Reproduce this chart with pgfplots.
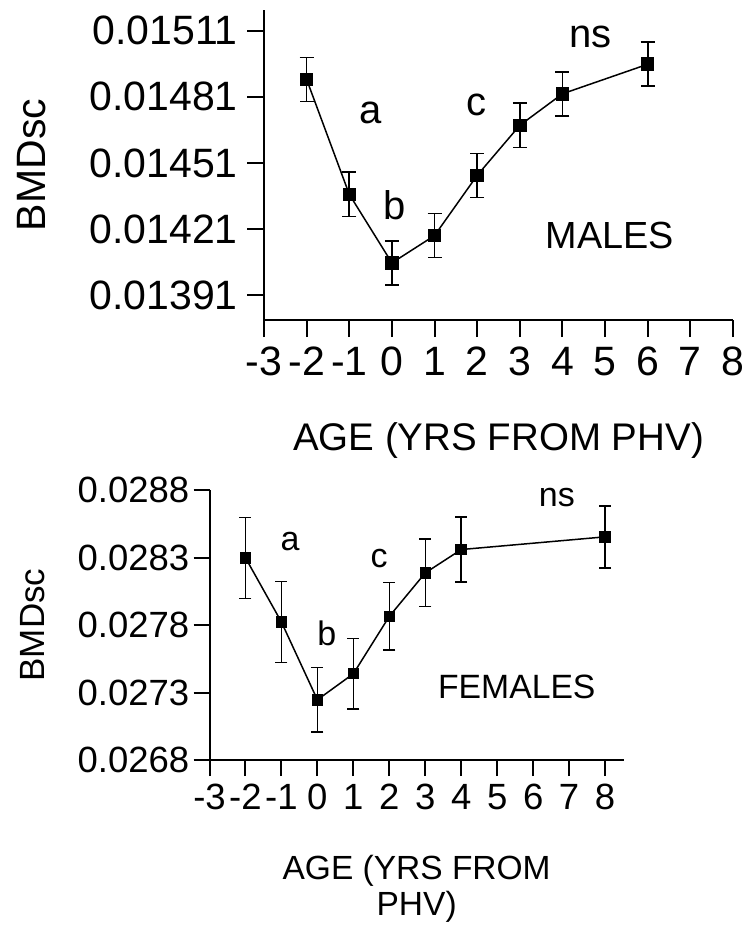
\documentclass[border=0pt]{standalone}
\usepackage{fontspec}
\setmainfont{Liberation Sans}
\usepackage{pgfplots}
\usepackage{pgfplotstable}
\pgfplotsset{compat=1.18}

\pgfplotstableread{
x y e
-2 0.014889 0.0001
-1 0.014368 0.0001
0 0.014057 0.0001
1 0.014181 0.0001
2 0.014454 0.0001
3 0.014681 0.0001
4 0.014824 0.0001
6 0.014958 0.0001
}\maledata

\pgfplotstableread{
x y e
-2 0.028298 0.00030
-1 0.027822 0.00030
0 0.027246 0.00024
1 0.027439 0.00026
2 0.027864 0.00025
3 0.028186 0.00025
4 0.028359 0.00024
8 0.028453 0.00023
}\femaledata

\begin{document}
\begin{tikzpicture}
\useasboundingbox (0pt,0pt) rectangle (743pt,-928pt);
% ---------- MALES ----------
\begin{axis}[
  at={(264pt,-320pt)}, anchor=south west,
  scale only axis, width=469pt, height=310pt,
  xmin=-3, xmax=8, ymin=0.013798, ymax=0.015204,
  scaled ticks=false,
  axis lines=left, axis line style={line width=2pt,-},
  tick align=outside, major tick length=17pt,
  every tick/.style={black, line width=2pt},
  xtick={-3,-2,-1,0,1,2,3,4,5,6,7,8},
  xticklabels={-3,-2,-1,0,1,2,3,4,5,6,7,8},
  ytick={0.01391,0.01421,0.01451,0.01481,0.01511},
  yticklabels={0.01391,0.01421,0.01451,0.01481,0.01511},
  tick label style={font=\fontsize{41}{42}\selectfont},
  xticklabel style={inner sep=0pt, yshift=-10pt},
  yticklabel style={inner sep=0pt, xshift=-9pt},
  xlabel={AGE (YRS FROM PHV)},
  xlabel style={font=\fontsize{38.5}{40}\selectfont, at={(axis description cs:0.5,-0.33)}, anchor=north, inner sep=0pt},
  ylabel={BMDsc},
  ylabel style={font=\fontsize{41}{42}\selectfont, at={(axis description cs:-0.4947,0.5)}, anchor=center, inner sep=0pt},
  clip=false,
]
\addplot[black, line width=1.5pt, mark=square*, mark size=6pt,
  mark options={solid, fill=black},
  error bars/.cd, y dir=both, y explicit, error mark=-,
  error bar style={line width=1.6pt, black},
  error mark options={rotate=90, line width=1.6pt, mark size=7pt, black}]
  table[x=x, y=y, y error=e] {\maledata};
\node[font=\fontsize{40}{42}\selectfont] at (axis cs:-0.5,0.014736) {a};
\node[font=\fontsize{40}{42}\selectfont] at (axis cs:0.07,0.014318) {b};
\node[font=\fontsize{40}{42}\selectfont] at (axis cs:1.99,0.014772) {c};
\node[font=\fontsize{40}{42}\selectfont] at (axis cs:4.65,0.015083) {ns};
\node[font=\fontsize{37.8}{40}\selectfont] at (axis cs:5.11,0.014181) {MALES};
\end{axis}
% ---------- FEMALES ----------
\begin{axis}[
  at={(209.5pt,-760pt)}, anchor=south west,
  scale only axis, width=414.3pt, height=270pt,
  xmin=-3, xmax=8.52, ymin=0.0268, ymax=0.0288,
  scaled ticks=false,
  axis lines=left, axis line style={line width=2pt,-},
  tick align=outside, major tick length=16pt,
  every tick/.style={black, line width=2pt},
  xtick={-3,-2,-1,0,1,2,3,4,5,6,7,8},
  xticklabels={-3,-2,-1,0,1,2,3,4,5,6,7,8},
  ytick={0.0268,0.0273,0.0278,0.0283,0.0288},
  yticklabels={0.0268,0.0273,0.0278,0.0283,0.0288},
  tick label style={font=\fontsize{36.5}{38}\selectfont},
  xticklabel style={inner sep=0pt, yshift=-8pt},
  yticklabel style={inner sep=0pt, xshift=-4pt},
  xlabel={AGE (YRS FROM\\PHV)},
  xlabel style={font=\fontsize{33.5}{36}\selectfont, align=center, at={(axis description cs:0.5,-0.352)}, anchor=north, inner sep=0pt},
  ylabel={BMDsc},
  ylabel style={font=\fontsize{35}{36}\selectfont, at={(axis description cs:-0.426,0.5)}, anchor=center, inner sep=0pt},
  clip=false,
]
\addplot[black, line width=1.5pt, mark=square*, mark size=5pt,
  mark options={solid, fill=black},
  error bars/.cd, y dir=both, y explicit, error mark=-,
  error bar style={line width=1.5pt, black},
  error mark options={rotate=90, line width=1.5pt, mark size=6pt, black}]
  table[x=x, y=y, y error=e] {\femaledata};
\node[font=\fontsize{34}{36}\selectfont] at (axis cs:-0.76,0.028417) {a};
\node[font=\fontsize{34}{36}\selectfont] at (axis cs:0.26,0.027738) {b};
\node[font=\fontsize{34}{36}\selectfont] at (axis cs:1.715,0.028294) {c};
\node[font=\fontsize{34}{36}\selectfont] at (axis cs:6.66,0.028746) {ns};
\node[font=\fontsize{33.7}{36}\selectfont] at (axis cs:5.545,0.027343) {FEMALES};
\end{axis}
\end{tikzpicture}
\end{document}
